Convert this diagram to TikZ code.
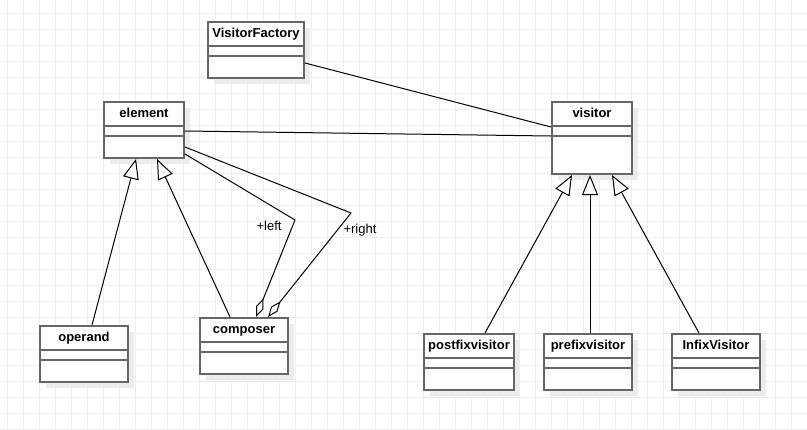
\documentclass[tikz,border=0pt]{standalone}
\usepackage{fontspec}
\setmainfont{Liberation Sans}
\usetikzlibrary{arrows.meta,shadows}
\definecolor{boxgray}{RGB}{102,102,102}
\definecolor{gridgray}{RGB}{238,238,238}
\definecolor{shadowgray}{RGB}{236,236,236}
\tikzset{every picture/.style={line width=0.75pt}}
\tikzset{
  classbox/.style={draw=boxgray, line width=1.5pt, fill=white, anchor=north west, inner sep=0pt,
    minimum height=42pt, drop shadow={shadow xshift=4.5pt, shadow yshift=-4.5pt, fill=shadowgray, opacity=1}},
  classrule/.style={draw=boxgray, line width=1.5pt},
  classname/.style={font=\bfseries\fontsize{9.75}{11}\selectfont, inner sep=0pt, anchor=base},
  rolename/.style={font=\fontsize{9.75}{11}\selectfont, inner sep=0pt},
  gridline/.style={draw=gridgray, line width=0.75pt},
  inherit/.style={-{Triangle[length=15pt, width=12pt, fill=white]}},
  aggreg/.style={-{Diamond[length=15pt, width=6pt, fill=white]}},
}
% two rules under the title and the class name (y runs downwards here)
\newcommand{\classrows}[2]{%
  \draw[classrule] ([yshift=18.75pt]#1.north west) -- ([yshift=18.75pt]#1.north east);
  \draw[classrule] ([yshift=26.25pt]#1.north west) -- ([yshift=26.25pt]#1.north east);
  \node[classname] (#1-title) at ([yshift=12.6pt]#1.north) {#2};
}

\begin{document}
\begin{tikzpicture}[x=0.75pt,y=0.75pt,yscale=-1,xscale=1]
\useasboundingbox (0,0) rectangle (807,429);
%Grid
\foreach \gx in {7,23,...,807} \draw[gridline] (\gx,0) -- (\gx,429);
\foreach \gy in {13,29,...,429} \draw[gridline] (0,\gy) -- (807,\gy);
%Classes
\node[classbox, minimum width=72pt] (factory) at (207,21) {};
\classrows{factory}{VisitorFactory}
\node[classbox, minimum width=60pt] (element) at (103,101) {};
\classrows{element}{element}
\node[classbox, minimum width=60pt, minimum height=54pt] (visitor) at (551,101) {};
\classrows{visitor}{visitor}
\node[classbox, minimum width=66pt] (operand) at (39,325) {};
\classrows{operand}{operand}
\node[classbox, minimum width=66pt] (composer) at (199,317) {};
\classrows{composer}{composer}
\node[classbox, minimum width=67.5pt] (postfix) at (423,333) {};
\classrows{postfix}{postfixvisitor}
\node[classbox, minimum width=66pt] (prefix) at (543,333) {};
\classrows{prefix}{prefixvisitor}
\node[classbox, minimum width=66pt] (infix) at (671,333) {};
\classrows{infix}{InfixVisitor}
%Associations
\draw ([yshift=9.75pt]factory.east) -- ([yshift=-8.25pt]visitor.west);
\draw ([yshift=0.75pt]element.east) -- ([yshift=-1.5pt]visitor.west);
%Generalisations
\draw[inherit] ([xshift=6pt]operand.north) -- ([xshift=-6pt]element.south);
\draw[inherit] ([xshift=-10.5pt]composer.north) -- ([xshift=9.75pt]element.south);
\draw[inherit] ([xshift=12pt]postfix.north) -- ([xshift=-15pt]visitor.south);
\draw[inherit] ([xshift=1.5pt]prefix.north) -- ([xshift=-1.5pt]visitor.south);
\draw[inherit] ([xshift=-12.75pt]infix.north) -- ([xshift=15pt]visitor.south);
%Aggregations
\coordinate (leftbend) at (295,220);
\coordinate (rightbend) at (351,213);
\draw[aggreg] ([yshift=18pt]element.east) -- (leftbend) -- ([xshift=9pt]composer.north);
\draw[aggreg] ([yshift=12.75pt]element.east) -- (rightbend) -- ([xshift=18pt]composer.north);
% Text Node
\node[rolename, anchor=base east] (leftrole) at (282,230) {+left};
% Text Node
\node[rolename, anchor=base west] (rightrole) at (343,233) {+right};
\end{tikzpicture}
\end{document}
